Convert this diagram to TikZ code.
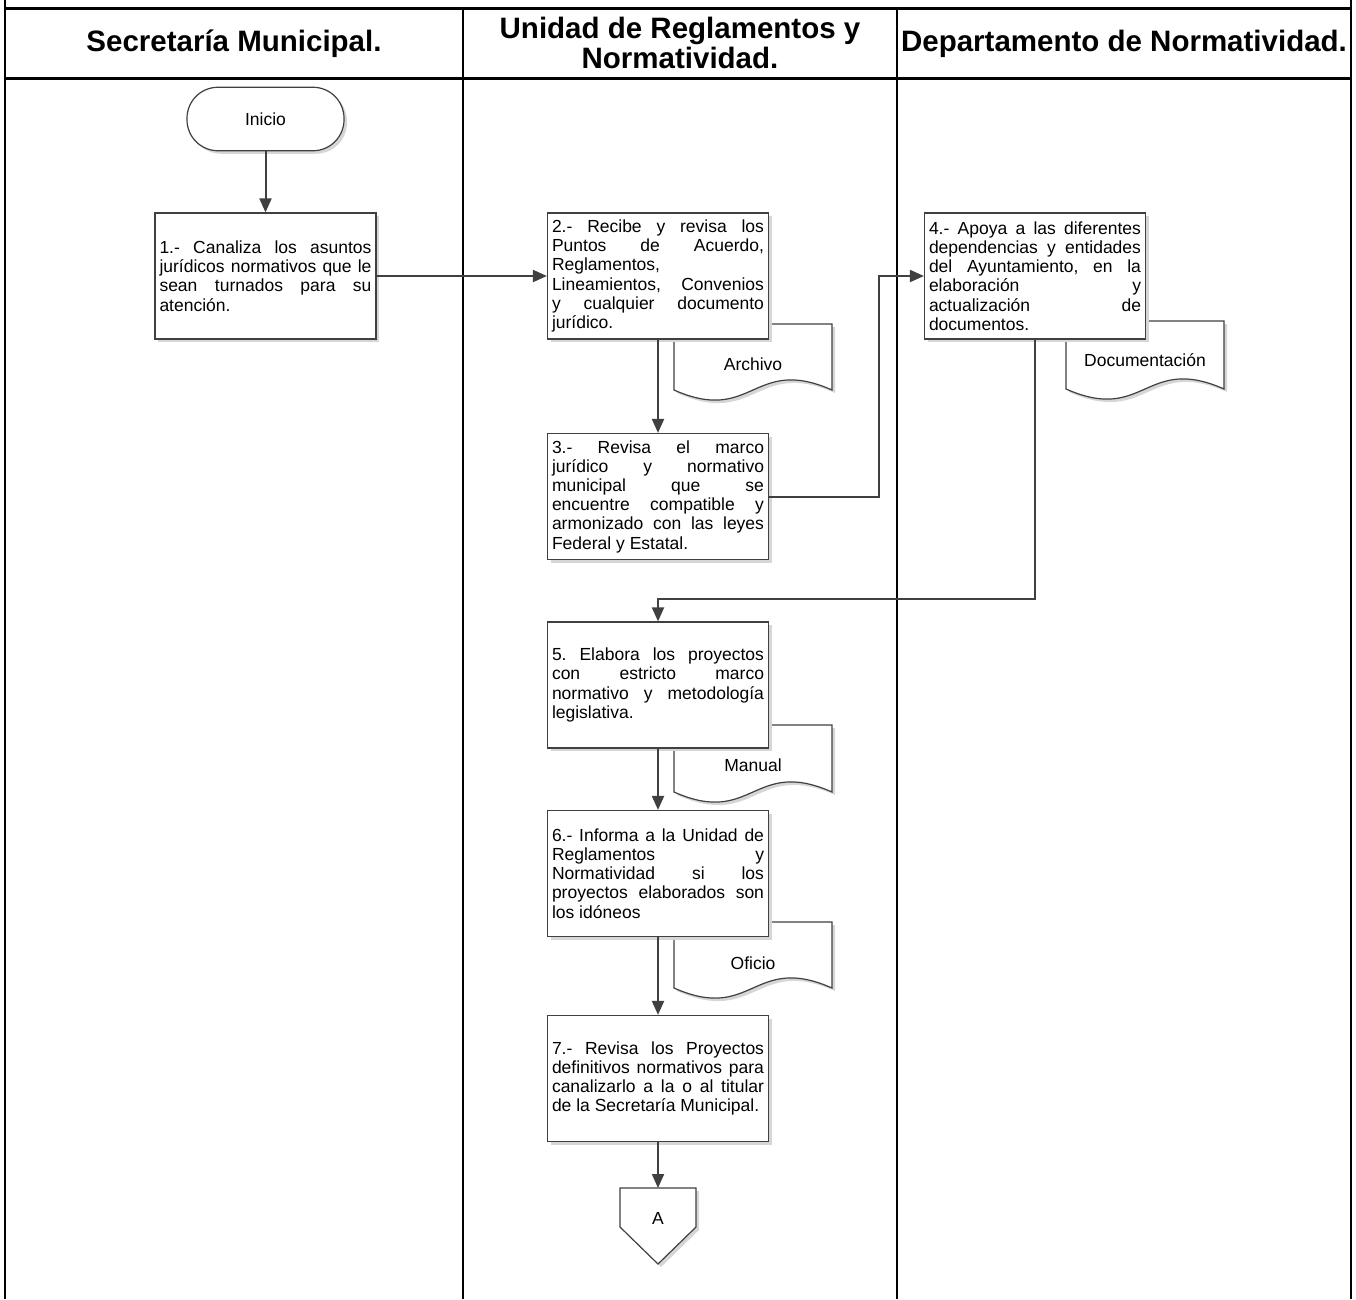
\documentclass[tikz,border=0pt]{standalone}
\usepackage{fontspec}
\setmainfont{Liberation Sans}
\usetikzlibrary{arrows.meta,shadows}
\definecolor{ln}{HTML}{404040}
\newlength\bw
\setlength\bw{212pt}
\newcommand\JL[1]{\makebox[\bw][s]{#1}}
\newcommand\LL[1]{\makebox[\bw][l]{#1}}
\frenchspacing
\tikzset{
  shd/.style={drop shadow={shadow xshift=3pt, shadow yshift=-3pt, fill=black!16, opacity=1}},
  box/.style={draw=ln, line width=1.2pt, fill=white, shd, minimum width=221pt, minimum height=126pt,
    inner sep=0pt, align=left, font=\fontsize{17.5}{19.2}\selectfont\frenchspacing},
  term/.style={draw=ln, line width=1.2pt, fill=white, shd, rounded corners=31pt, minimum width=157pt,
    minimum height=63.5pt, font=\fontsize{17.5}{19.2}\selectfont},
  docshape/.style={draw=ln, line width=1.2pt, fill=white, shd},
  flow/.style={draw=ln, line width=2pt, -{Triangle[length=14pt,width=12pt]}},
  frameline/.style={line width=2.5pt, black},
  hdr/.style={font=\fontsize{29.5}{30}\selectfont\bfseries, align=center, inner sep=0pt},
  lbl/.style={font=\fontsize{17.5}{19.2}\selectfont, inner sep=0pt}
}
\begin{document}
\begin{tikzpicture}[x=1pt,y=-1pt]
\useasboundingbox (0,0) rectangle (1356,1299);
% frame
\draw[frameline] (5,0) -- (5,1299);
\draw[frameline] (1351,0) -- (1351,1299);
\draw[frameline] (5,8.3) -- (1351,8.3);
\draw[frameline] (5,78.5) -- (1351,78.5);
\draw[frameline] (463,8.3) -- (463,1299);
\draw[frameline] (897,8.3) -- (897,1299);
% headers
\node[hdr] (h1) at (234,43.4) {Secretaría Municipal.};
\node[hdr] (h2) at (680,43.4) {Unidad de Reglamentos y\\Normatividad.};
\node[hdr] (h3) at (1124,43.4) {Departamento de Normatividad.};
% documents (drawn first, behind boxes)
\path[docshape] (674,324) -- (674,390) .. controls (753,425) and (753,355) .. (832,390) -- (832,324) -- cycle;
\node[lbl] (arch) at (753,364) {Archivo};
\path[docshape] (1066,321) -- (1066,389) .. controls (1145,424) and (1145,354) .. (1224,389) -- (1224,321) -- cycle;
\node[lbl] (docu) at (1145,360) {Documentación};
\path[docshape] (674,725) -- (674,792) .. controls (753,827) and (753,757) .. (832,792) -- (832,725) -- cycle;
\node[lbl] (man) at (753,765) {Manual};
\path[docshape] (674,922) -- (674,988) .. controls (753,1023) and (753,953) .. (832,988) -- (832,922) -- cycle;
\node[lbl] (ofi) at (753,963) {Oficio};
% start
\node[term] (ini) at (265.5,119) {Inicio};
% process boxes
\node[box] (b1) at (265.5,276) {\JL{1.- Canaliza los asuntos}\\\JL{jurídicos normativos que le}\\\JL{sean turnados para su}\\\LL{atención.}};
\node[box] (b2) at (658,276) {\JL{2.- Recibe y revisa los}\\\JL{Puntos de Acuerdo,}\\\LL{Reglamentos,}\\\JL{Lineamientos, Convenios}\\\JL{y cualquier documento}\\\LL{jurídico.}};
\node[box] (b3) at (658,496.5) {\JL{3.- Revisa el marco}\\\JL{jurídico y normativo}\\\JL{municipal que se}\\\JL{encuentre compatible y}\\\JL{armonizado con las leyes}\\\LL{Federal y Estatal.}};
\node[box] (b4) at (1035,276) {\JL{4.- Apoya a las diferentes}\\\JL{dependencias y entidades}\\\JL{del Ayuntamiento, en la}\\\JL{elaboración y}\\\JL{actualización de}\\\LL{documentos.}};
\node[box] (b5) at (658,685) {\JL{5. Elabora los proyectos}\\\JL{con estricto marco}\\\JL{normativo y metodología}\\\LL{legislativa.}};
\node[box] (b6) at (658,873.5) {\JL{6.- Informa a la Unidad de}\\\JL{Reglamentos y}\\\JL{Normatividad si los}\\\JL{proyectos elaborados son}\\\LL{los idóneos}};
\node[box] (b7) at (658,1078.5) {\JL{7.- Revisa los Proyectos}\\\JL{definitivos normativos para}\\\JL{canalizarlo a la o al titular}\\\LL{de la Secretaría Municipal.}};
% off-page connector
\path[docshape] (620,1188) -- (696,1188) -- (696,1227) -- (658,1264) -- (620,1227) -- cycle;
\node[lbl] (A) at (658,1218) {A};
\coordinate (Atop) at (658,1188);
% connectors
\draw[flow] (ini) -- (b1);
\draw[flow] (b1) -- (b2);
\draw[flow] (b2) -- (b3);
\draw[flow] (b3.east) -- ++(110,0) |- (b4.west);
\draw[flow] (b4.south) -- ++(0,259) -| (b5.north);
\draw[flow] (b5) -- (b6);
\draw[flow] (b6) -- (b7);
\draw[flow] (b7.south) -- (Atop);
\end{tikzpicture}
\end{document}
